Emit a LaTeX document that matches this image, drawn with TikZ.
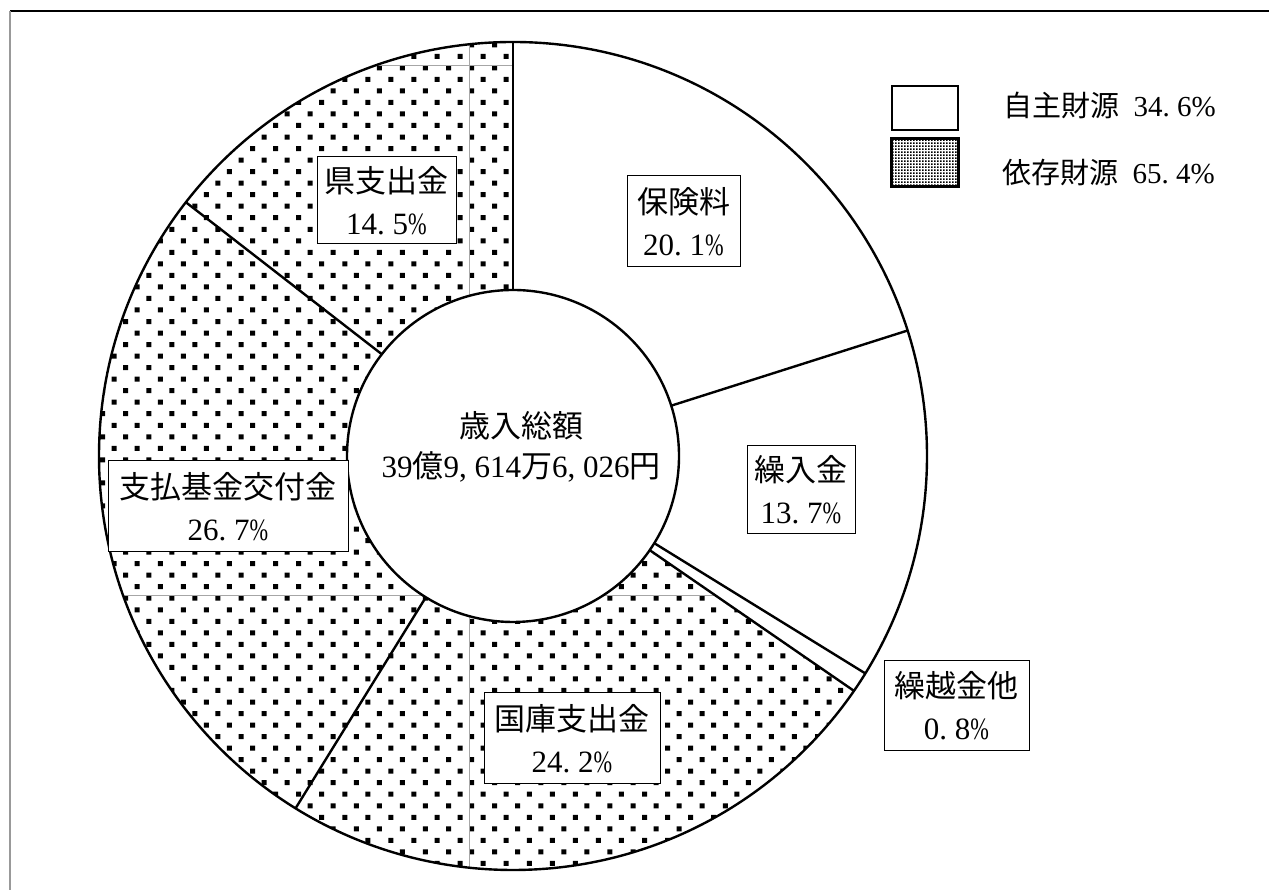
\documentclass[tikz,border=0pt]{standalone}
\usepackage{fontspec}
\setmainfont{Liberation Serif}
\newfontfamily\cjk{Noto Sans CJK JP}
\newcommand{\myhp}{\makebox[0.5em][l]{.}}
\newcommand{\myhc}{\makebox[0.5em][l]{,}}
\newcommand{\mypc}{\scalebox{0.72}[1]{\%}}
\tikzset{
  lbl/.style={draw=black, line width=1pt, fill=white, inner sep=0pt, align=center,
    font=\fontsize{31}{42}\selectfont},
  pieline/.style={line width=2.4pt, black},
  artifact/.style={line width=0.8pt, gray!70},
  legbox/.style={draw=black, line width=2pt, minimum width=66pt, minimum height=44pt, inner sep=0pt},
  legtxt/.style={anchor=west, inner sep=0pt, font=\fontsize{29}{35}\selectfont}
}
\begin{document}
\begin{tikzpicture}[x=1pt,y=1pt]
\useasboundingbox (0,0) rectangle (1269,890);
% frame
\draw[line width=1.7pt, black] (10,879) -- (1269,879);
\draw[line width=2pt, gray!80] (10,879) -- (10,0);
\begin{scope}[shift={(513,434)}]
  % dotted region (dependent sources)
  \begin{scope}
    \clip (90:414) arc[start angle=90, end angle=325.44, radius=414]
      -- (325.44:166) arc[start angle=325.44, end angle=90, radius=166] -- cycle;
    \fill[black] foreach \j in {0,...,74} { foreach \i in {-2,...,36} {
      ({125.7+11.53*mod(\j,2)+23.06*\i-2.5-513}, {868.26-11.53*\j-2.5-434}) rectangle ++(5,5) } };
    \draw[artifact] (469-513,-500) -- (469-513,500);
    \draw[artifact] (-500,825-434) -- (500,825-434);
    \draw[artifact] (-500,295-434) -- (500,295-434);
  \end{scope}
  % outer circle and slice boundaries
  \draw[pieline] (0,0) circle[radius=414];
  \foreach \a in {90,17.64,-31.68,-34.56,-121.68,142.2}
    \draw[pieline] (\a:166) -- (\a:414);
  % inner circle
  \draw[pieline, fill=white] (0,0) circle[radius=166];
\end{scope}
\node[inner sep=0pt, align=center, font=\fontsize{31}{40}\selectfont] (total) at (521,443)
  {{\cjk 歳入総額}\\39{\cjk 億}9\myhc 614{\cjk 万}6\myhc 026{\cjk 円}};
% labels
\node[lbl, minimum width=139pt, minimum height=87pt] (ken) at (386.5,689.5)
  {{\cjk 県支出金}\\14\myhp 5\mypc};
\node[lbl, minimum width=113pt, minimum height=91pt] (hoken) at (683.5,668.5)
  {{\cjk 保険料}\\20\myhp 1\mypc};
\node[lbl, minimum width=108pt, minimum height=88pt] (kuri) at (801,400)
  {{\cjk 繰入金}\\13\myhp 7\mypc};
\node[lbl, minimum width=145pt, minimum height=90pt] (kurikoshi) at (956.5,184)
  {{\cjk 繰越金他}\\0\myhp 8\mypc};
\node[lbl, minimum width=176pt, minimum height=91pt] (kokko) at (572,151.5)
  {{\cjk 国庫支出金}\\24\myhp 2\mypc};
\node[lbl, minimum width=240pt, minimum height=91pt] (shiharai) at (228,383.5)
  {{\cjk 支払基金交付金}\\26\myhp 7\mypc};
% legend
\node[legbox, fill=white] (legA) at (925,782) {};
\node[legbox, minimum height=47pt] (legB) at (925,727.5) {};
\begin{scope}
  \clip (legB.south west) rectangle (legB.north east);
  \fill[black] foreach \j in {0,...,16} { foreach \i in {0,...,22} {
    ({892+3*\i}, {704+3*\j}) rectangle ++(1.6,1.6) } };
\end{scope}
\draw[line width=2pt] (legB.south west) rectangle (legB.north east);
\node[legtxt] (legAt) at (1003,785) {{\cjk 自主財源}\hspace{0.5em}34\myhp 6\%};
\node[legtxt] (legBt) at (1002,717) {{\cjk 依存財源}\hspace{0.5em}65\myhp 4\%};
\end{tikzpicture}
\end{document}
